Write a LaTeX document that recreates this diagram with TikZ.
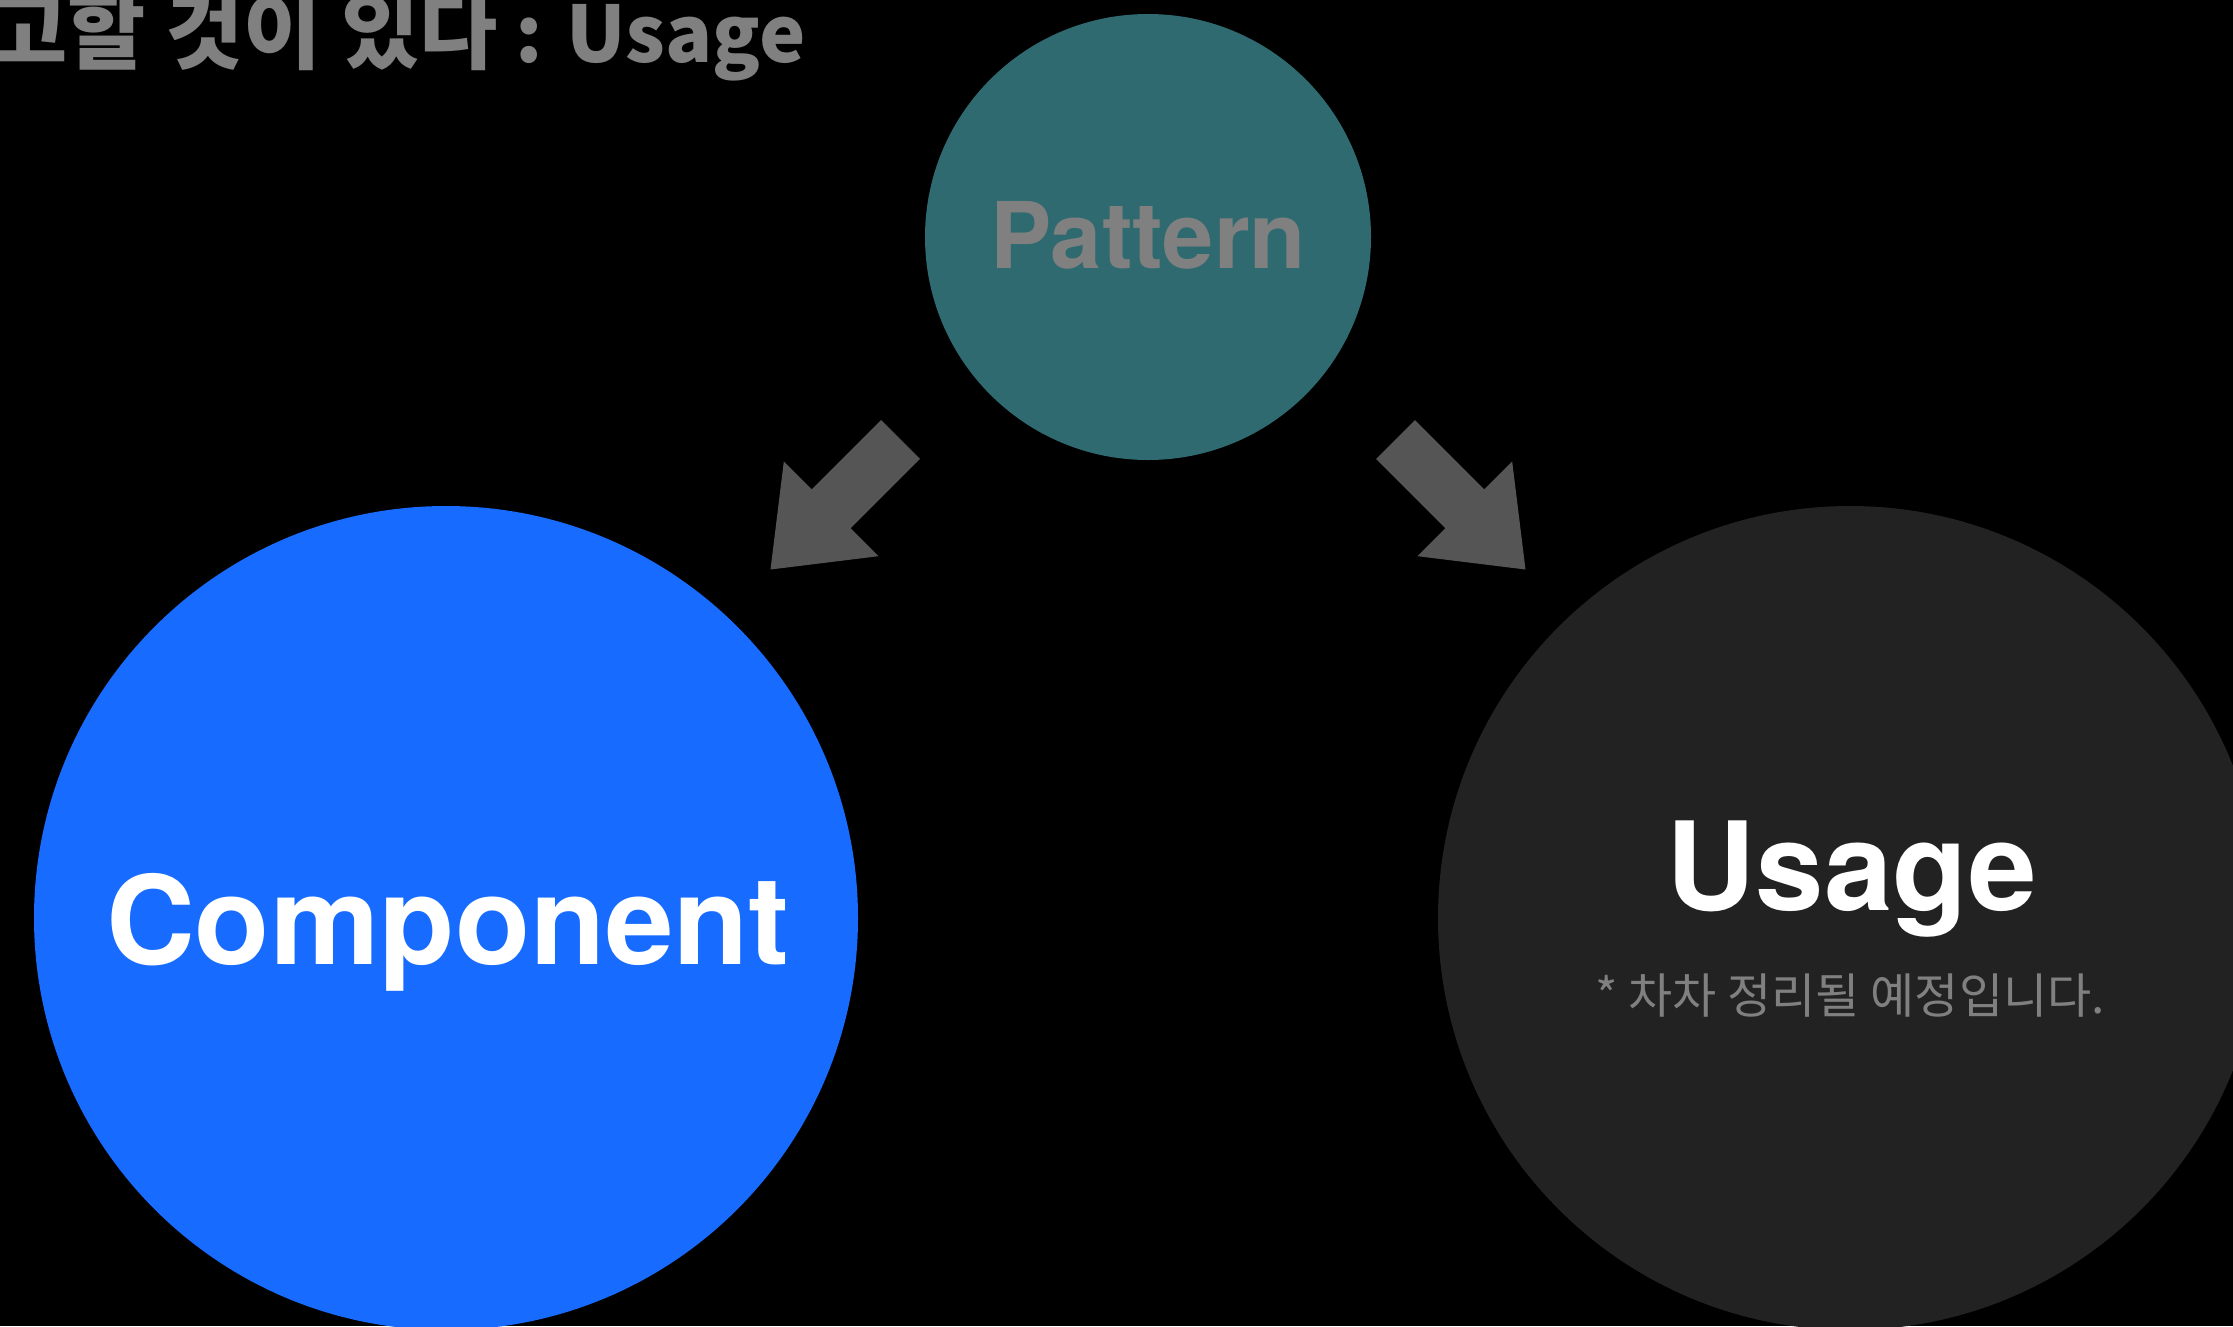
\documentclass[tikz,border=0pt]{standalone}
\usepackage{fontspec}
\setmainfont{TeX Gyre Heros}
\newfontfamily\krfont{Noto Sans CJK KR}
\usepackage{xcolor}
\usetikzlibrary{calc}

\definecolor{patternteal}{HTML}{2E6A70}
\definecolor{compblue}{HTML}{176CFF}
\definecolor{usagedark}{HTML}{222222}
\definecolor{arrowgray}{HTML}{555555}
\definecolor{labelgray}{HTML}{808080}

\begin{document}
\begin{tikzpicture}[x=1pt,y=-1pt,
		bubble/.style={circle, inner sep=0pt},
		biglabel/.style={anchor=base, font=\bfseries\fontsize{123}{130}\selectfont}]
		\fill[black] (0,0) rectangle (2233,1326);
		\useasboundingbox (0,0) rectangle (2233,1326);
		% title, cut off at the top left
		\node[anchor=base east, text=labelgray, font=\krfont\bfseries\fontsize{78}{84}\selectfont] (title) at (809,62) {{\fontsize{85}{90}\selectfont 고할 것이 있다} : Usage};
		% the three circles
		\node[bubble, fill=patternteal, minimum size=446pt] (pattern) at (1148,237) {};
		\node[bubble, fill=compblue, minimum size=824pt] (component) at (446,918) {};
		\node[bubble, fill=usagedark, minimum size=824pt] (usage) at (1850,918) {};
		\node[anchor=base, text=labelgray, font=\bfseries\fontsize{92}{96}\selectfont] (patternlabel) at (1148,268) {Pattern};
		\node[biglabel, text=white] (complabel) at (448,964) {Component};
		\node[biglabel, text=white] (usagelabel) at (1852,910) {Usage};
		\node[anchor=base, text=labelgray, font=\krfont\fontsize{48}{52}\selectfont] (usagenote) at (1850,1013) {* 차차 정리될 예정입니다.};
		% block arrows
		\coordinate (ltail) at (900.5,439.5);
		\coordinate (ltip) at (770.5,569.5);
		\coordinate (rtail) at (1395.5,439.5);
		\coordinate (rtip) at (1525.5,569.5);
		\foreach \a/\b in {ltail/ltip, rtail/rtip}
			\fill[arrowgray] ($(\a)!27.5pt!90:(\b)$) -- ($(\a)!98pt!(\b)!27.5pt!90:(\b)$) -- ($(\a)!98pt!(\b)!67pt!90:(\b)$) -- (\b)
				-- ($(\a)!98pt!(\b)!67pt!-90:(\b)$) -- ($(\a)!98pt!(\b)!27.5pt!-90:(\b)$) -- ($(\a)!27.5pt!-90:(\b)$) -- cycle;
	\end{tikzpicture}
\end{document}
